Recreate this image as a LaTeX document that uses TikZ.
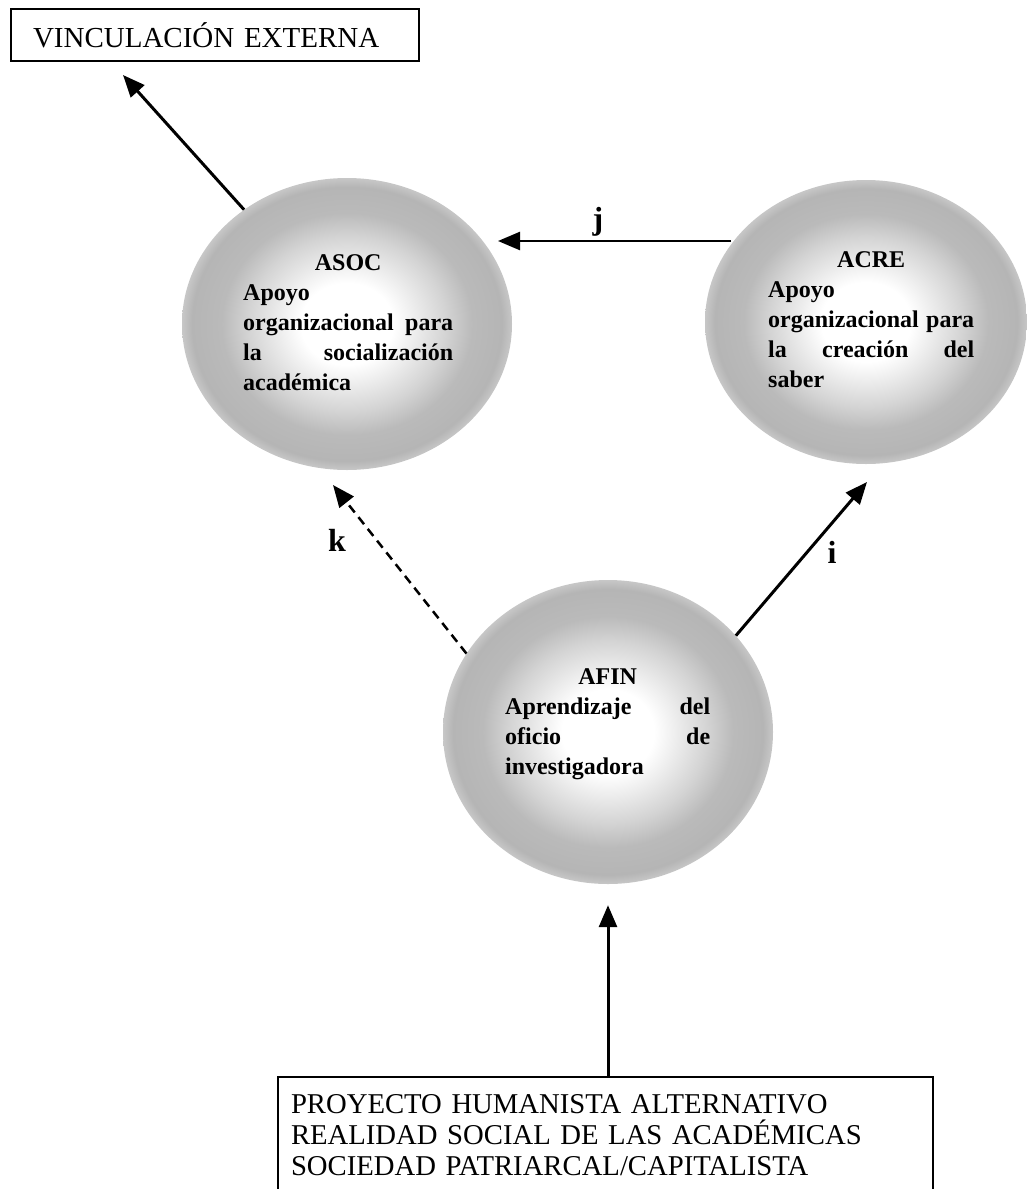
\documentclass[tikz,border=0pt]{standalone}
\usepackage{fontspec}
\setmainfont{Liberation Serif}
\usetikzlibrary{arrows.meta,shapes.geometric,calc}

% grey stippled discs: pale centre, even grey ring, slightly softer rim
\pgfdeclareradialshading{halftone}{\pgfpoint{0bp}{0bp}}{%
  color(0bp)=(white); color(7bp)=(white); color(15bp)=(black!17);
  color(19bp)=(black!27); color(23.5bp)=(black!29); color(25bp)=(black!22);
  color(50bp)=(black!22)}

\begin{document}
\begin{tikzpicture}[x=1pt,y=-1pt,
  disc/.style={ellipse, shade, shading=halftone, draw=none, inner sep=0pt},
  ctext/.style={align=left, inner sep=0pt, anchor=north west,
                font=\fontsize{24}{30}\selectfont\bfseries},
  framebox/.style={draw, line width=2pt, anchor=north west, align=left, inner ysep=2pt},
  arr/.style={line width=3pt, -{Triangle[length=22pt,width=18pt]}},
  lbl/.style={font=\fontsize{32}{32}\selectfont\bfseries, inner sep=0pt}]

\useasboundingbox (0,0) rectangle (1027,1189);

% the three activity discs
\node[disc, minimum width=330pt, minimum height=292pt] (asoc) at (347,324) {};
\node[disc, minimum width=322pt, minimum height=284pt] (acre) at (866,322) {};
\node[disc, minimum width=330pt, minimum height=304pt] (afin) at (608,732) {};

% their texts
\node[ctext] (asoc-txt) at (243,254)
  {\makebox[210pt][c]{ASOC}\\
   Apoyo\\
   \makebox[210pt][s]{organizacional para}\\
   \makebox[210pt][s]{la socialización}\\
   académica};
\node[ctext] (acre-txt) at (768,251)
  {\makebox[206pt][c]{ACRE}\\
   Apoyo\\
   \makebox[206pt][s]{organizacional para}\\
   \makebox[206pt][s]{la creación del}\\
   saber};
\node[ctext] (afin-txt) at (505,668)
  {\makebox[205pt][c]{AFIN}\\
   \makebox[205pt][s]{Aprendizaje del}\\
   \makebox[205pt][s]{oficio de}\\
   investigadora};

% framed boxes
\node[framebox, text width=364pt, inner xsep=22pt, minimum height=52pt,
      font=\fontsize{29}{32}\selectfont] (vinc) at (10,8) {VINCULACIÓN EXTERNA};
\node[framebox, text width=629pt, inner xsep=13pt, minimum height=116pt,
      font=\fontsize{28.7}{31}\selectfont] (proj) at (277,1076)
  {PROYECTO HUMANISTA ALTERNATIVO\\
   REALIDAD SOCIAL DE LAS ACADÉMICAS\\
   SOCIEDAD PATRIARCAL/CAPITALISTA};

% arrow tips that stop short of their targets
\coordinate (vtip) at (123,75);
\coordinate (jtip) at (498,241);
\coordinate (itip) at (867,482);
\coordinate (ktip) at (333,485);

% connectors
\draw[arr] (asoc.132) -- (vtip);
\draw[arr, line width=2.5pt] (jtip -| acre.150) -- (jtip);
\draw[arr] (afin.37) -- (itip);
\draw[arr, line width=2.5pt, dash pattern=on 9pt off 6pt] (afin.151) -- (ktip);
\draw[arr, shorten >=21pt] (afin.south |- proj.north) -- (afin.south);

% connector labels
\node[lbl] (lj) at (598,222) {j};
\node[lbl] (lk) at (337,540) {k};
\node[lbl] (li) at (832,552) {i};

\end{tikzpicture}
\end{document}
